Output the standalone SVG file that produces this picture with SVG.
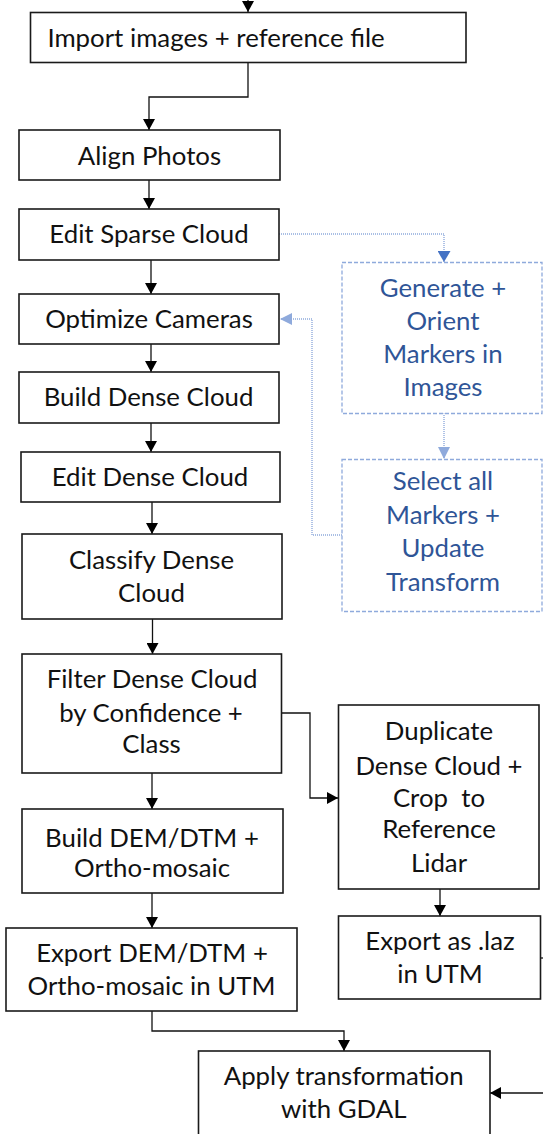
<svg xmlns="http://www.w3.org/2000/svg" width="543" height="1134" viewBox="0 0 543 1134">
<defs>
<style>
.box{fill:#fff;stroke:#1a1a1a;stroke-width:1.6}
.dbox{fill:#fff;stroke:#8faadc;stroke-width:1.3;stroke-dasharray:4 2}
.t{font-family:Lato,"Open Sans","Liberation Sans",sans-serif;font-size:25.8px;fill:#111;text-anchor:middle}
.tb{fill:#2f5597}
.c{fill:none;stroke:#111;stroke-width:1.3}
.d{fill:none;stroke:#8faadc;stroke-width:1.4;stroke-dasharray:1 1}
</style>
<marker id="ah" viewBox="0 0 11 12" refX="11" refY="6" markerWidth="11" markerHeight="12" markerUnits="userSpaceOnUse" orient="auto"><path d="M0,0 L11,6 L0,12 Z" fill="#000"/></marker>
<marker id="ahb" viewBox="0 0 11 13" refX="11" refY="6.5" markerWidth="11" markerHeight="13" markerUnits="userSpaceOnUse" orient="auto"><path d="M0,0 L11,6.5 L0,13 Z" fill="#4472c4"/></marker>
<marker id="ahl" viewBox="0 0 12 12" refX="12" refY="6" markerWidth="12" markerHeight="12" markerUnits="userSpaceOnUse" orient="auto"><path d="M0,0 L12,6 L0,12 Z" fill="#8faadc"/></marker>
</defs>
<rect width="543" height="1134" fill="#fff"/>
<g id="connectors">
<path class="c" d="M248,0 V12" marker-end="url(#ah)"/>
<path class="c" d="M248,62 V97 H149 V130" marker-end="url(#ah)"/>
<path class="c" d="M149,180 V209" marker-end="url(#ah)"/>
<path class="c" d="M151,260 V294" marker-end="url(#ah)"/>
<path class="c" d="M151,344 V372" marker-end="url(#ah)"/>
<path class="c" d="M151,423 V452" marker-end="url(#ah)"/>
<path class="c" d="M152,502 V534" marker-end="url(#ah)"/>
<path class="c" d="M152.5,619 V654" marker-end="url(#ah)"/>
<path class="c" d="M152,773 V809" marker-end="url(#ah)"/>
<path class="c" d="M281.5,713 H310 V798 H338" marker-end="url(#ah)"/>
<path class="c" d="M152,893 V928" marker-end="url(#ah)"/>
<path class="c" d="M440,889 V916" marker-end="url(#ah)"/>
<path class="c" d="M152,1011 V1031 H344 V1051" marker-end="url(#ah)"/>
<path class="c" d="M543,1093 H490" marker-end="url(#ah)"/>
<path class="c" d="M540,958 H543"/>
<path class="d" d="M279,234 H444 V262" marker-end="url(#ahb)"/>
<path class="d" d="M444,413 V459" marker-end="url(#ahl)"/>
<path class="d" d="M342,535 H312 V319 H280" marker-end="url(#ahl)"/>
</g>
<g id="import"><rect class="box" x="30.5" y="12.5" width="435.5" height="50"/><text class="t" x="216" y="46.7">Import images + reference file</text></g>
<g id="align"><rect class="box" x="19" y="130" width="261" height="50"/><text class="t" x="149.5" y="165">Align Photos</text></g>
<g id="editsparse"><rect class="box" x="19" y="209" width="260" height="51"/><text class="t" x="149" y="243.3">Edit Sparse Cloud</text></g>
<g id="optimize"><rect class="box" x="19" y="294" width="260" height="50"/><text class="t" x="149" y="328.3">Optimize Cameras</text></g>
<g id="builddense"><rect class="box" x="19" y="372" width="260" height="51"/><text class="t" x="148.5" y="406">Build Dense Cloud</text></g>
<g id="editdense"><rect class="box" x="21" y="452" width="259" height="50"/><text class="t" x="150" y="485.7">Edit Dense Cloud</text></g>
<g id="classify"><rect class="box" x="22" y="534" width="260" height="85"/><text class="t" x="151.5" y="569.3">Classify Dense</text><text class="t" x="151.5" y="601.7">Cloud</text></g>
<g id="filter"><rect class="box" x="22" y="654" width="259.5" height="119"/><text class="t" x="152" y="688.3">Filter Dense Cloud</text><text class="t" x="151" y="721.7">by Confidence +</text><text class="t" x="151.5" y="753.3">Class</text></g>
<g id="builddem"><rect class="box" x="22" y="809" width="261" height="84"/><text class="t" x="152" y="846.7">Build DEM/DTM +</text><text class="t" x="152" y="877">Ortho-mosaic</text></g>
<g id="exportdem"><rect class="box" x="6" y="928" width="291" height="83"/><text class="t" x="152" y="961.7">Export DEM/DTM +</text><text class="t" x="151.5" y="995">Ortho-mosaic in UTM</text></g>
<g id="apply"><rect class="box" x="198.5" y="1051" width="291.5" height="100"/><text class="t" x="343.7" y="1085">Apply transformation</text><text class="t" x="343.7" y="1118.3">with GDAL</text></g>
<g id="duplicate"><rect class="box" x="338.5" y="705" width="200.5" height="184"/><text class="t" x="439" y="740">Duplicate</text><text class="t" x="439" y="775">Dense Cloud +</text><text class="t" x="439" y="806.7" xml:space="preserve">Crop  to</text><text class="t" x="439" y="838.3">Reference</text><text class="t" x="439" y="871.7">Lidar</text></g>
<g id="exportlaz"><rect class="box" x="338.5" y="916" width="202" height="83"/><text class="t" x="440" y="950">Export as .laz</text><text class="t" x="440" y="982.7">in UTM</text></g>
<g id="generate"><rect class="dbox" x="342" y="262.5" width="200" height="151"/><text class="t tb" x="443" y="296.7">Generate +</text><text class="t tb" x="443" y="330">Orient</text><text class="t tb" x="443" y="363.3">Markers in</text><text class="t tb" x="443" y="395.5">Images</text></g>
<g id="select"><rect class="dbox" x="342" y="459.5" width="200" height="152"/><text class="t tb" x="443" y="490">Select all</text><text class="t tb" x="443" y="523.5">Markers +</text><text class="t tb" x="443" y="557">Update</text><text class="t tb" x="443" y="590.5">Transform</text></g>
</svg>
